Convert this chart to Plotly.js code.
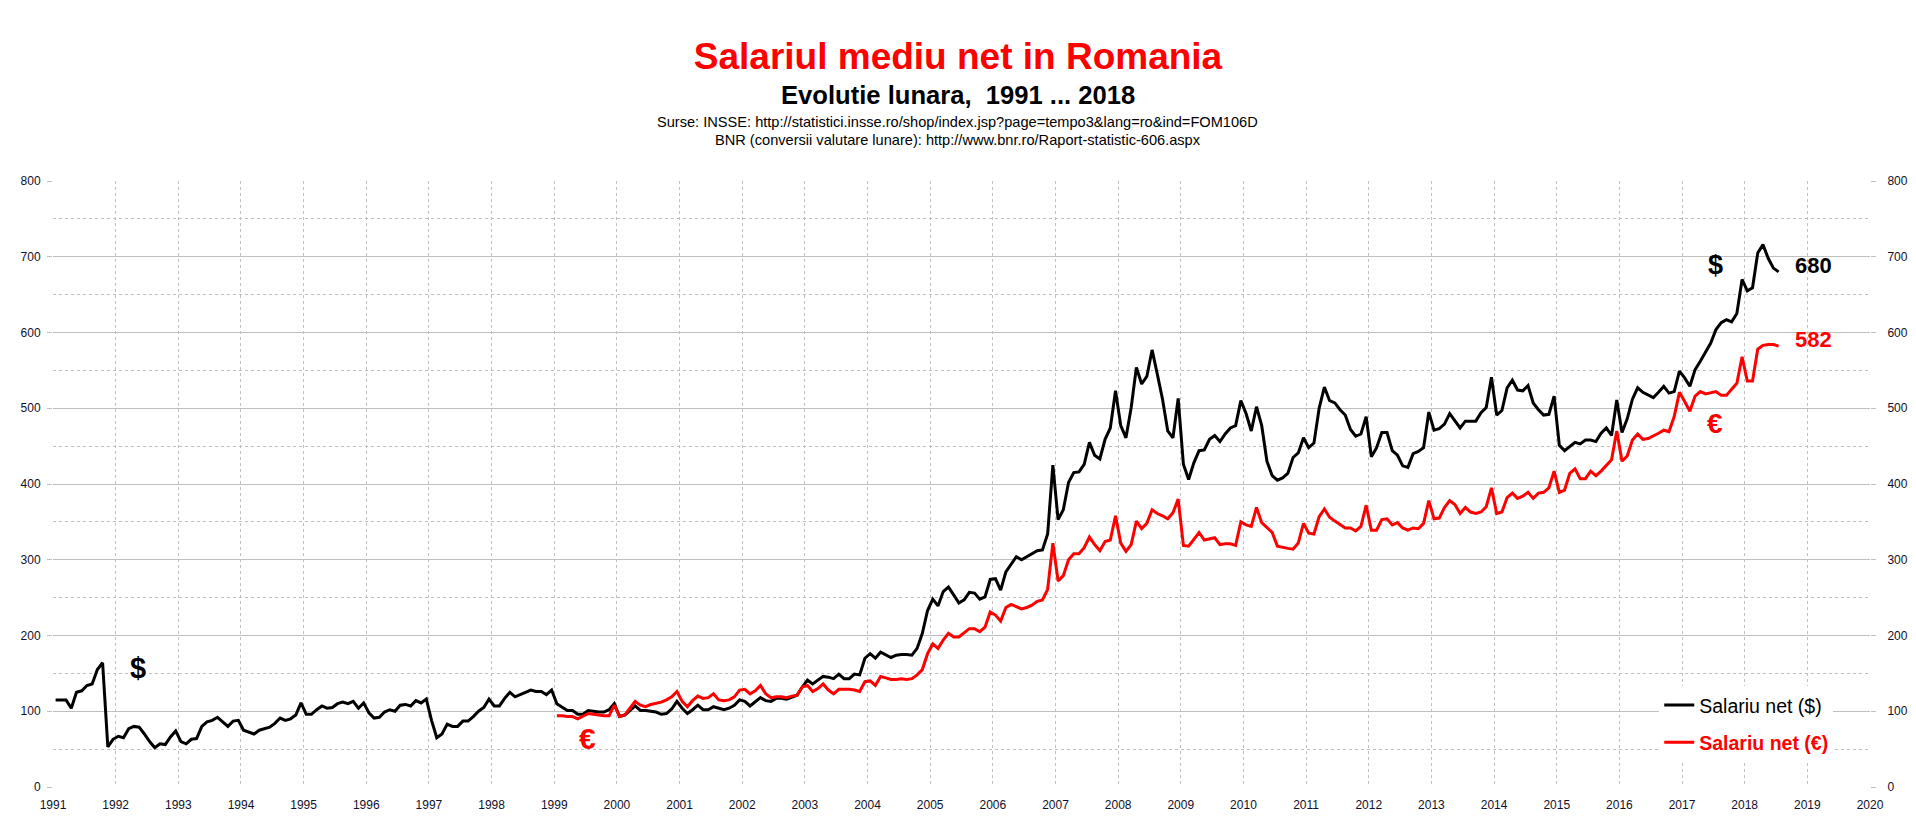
<!DOCTYPE html>
<html>
<head>
<meta charset="utf-8">
<script src="https://cdn.plot.ly/plotly-3.0.1.min.js"></script>
<style>
  html, body { margin: 0; padding: 0; background: #fff; }
  #chart { width: 1916px; height: 837px; }
</style>
</head>
<body>
<div id="chart"></div>
<script>
// monthly net salary, Jan 1991 .. Jul 2018 (USD) and Jan 1999 .. Jul 2018 (EUR)
const startUSD = 1991;
const startEUR = 1999;

const salariuUSD = [
  115, 115, 115, 104, 125, 127, 134, 136, 155, 164, 53, 63,   // 1991
  67, 65, 77, 80, 79, 70, 60, 52, 57, 56, 66, 74,             // 1992
  60, 57, 63, 64, 80, 86, 88, 92, 86, 80, 87, 88,             // 1993
  75, 72, 70, 75, 77, 79, 84, 91, 88, 90, 95, 111,            // 1994
  96, 96, 102, 107, 104, 105, 110, 112, 110, 113, 104, 111,   // 1995
  98, 91, 92, 99, 102, 100, 108, 109, 107, 114, 111, 116,     // 1996
  88, 65, 70, 83, 80, 80, 87, 87, 93, 100, 105, 116,          // 1997
  107, 107, 117, 125, 119, 122, 126, 128, 126, 126, 122, 128, // 1998
  110, 105, 101, 101, 96, 96, 101, 100, 99, 99, 102, 110,     // 1999
  93, 95, 101, 107, 101, 101, 100, 99, 96, 97, 103, 113,      // 2000
  104, 97, 102, 108, 102, 102, 106, 104, 102, 104, 108, 115,  // 2001
  113, 107, 112, 118, 114, 113, 117, 117, 116, 119, 121, 132, // 2002
  141, 136, 141, 146, 145, 143, 149, 143, 143, 149, 148, 170, // 2003
  176, 170, 178, 174, 171, 174, 175, 175, 174, 183, 203, 233, // 2004
  248, 239, 258, 264, 253, 243, 247, 257, 256, 248, 251, 274, // 2005
  275, 260, 284, 294, 304, 300, 304, 309, 312, 313, 334, 425, // 2006
  353, 366, 402, 415, 416, 426, 455, 438, 433, 459, 474, 523, // 2007
  477, 461, 501, 554, 532, 542, 577, 545, 512, 470, 461, 513, // 2008
  426, 406, 428, 444, 445, 459, 464, 456, 466, 474, 477, 510, // 2009
  493, 470, 502, 477, 430, 411, 405, 408, 414, 435, 441, 461, // 2010
  448, 454, 500, 528, 510, 507, 498, 491, 472, 463, 466, 489, // 2011
  436, 448, 468, 468, 444, 438, 424, 422, 440, 443, 448, 495, // 2012
  471, 473, 479, 493, 483, 474, 483, 483, 483, 494, 501, 541, // 2013
  491, 497, 527, 537, 524, 523, 530, 507, 498, 491, 492, 516, // 2014
  451, 444, 449, 455, 453, 458, 458, 456, 467, 474, 464, 511, // 2015
  468, 486, 512, 527, 521, 517, 514, 521, 529, 520, 522, 549, // 2016
  540, 529, 551, 562, 574, 586, 604, 613, 617, 614, 625, 670, // 2017
  655, 659, 705, 716, 698, 685, 680                           // 2018
];

const salariuEUR = [
  94, 94, 93, 93, 90, 93, 97, 96, 95, 94, 94, 108,            // 1999
  93, 95, 104, 113, 108, 106, 109, 110, 112, 115, 119, 126,   // 2000
  113, 106, 114, 120, 117, 118, 123, 115, 114, 115, 119, 128, // 2001
  129, 123, 127, 134, 123, 118, 119, 119, 118, 120, 121, 132, // 2002
  134, 126, 130, 136, 128, 123, 129, 129, 129, 128, 126, 139, // 2003
  140, 134, 146, 144, 142, 142, 143, 142, 143, 148, 155, 176, // 2004
  189, 183, 194, 203, 198, 198, 203, 209, 209, 205, 211, 231, // 2005
  227, 219, 237, 241, 238, 235, 237, 240, 245, 247, 261, 322, // 2006
  272, 279, 300, 308, 308, 316, 330, 320, 312, 324, 326, 358, // 2007
  322, 311, 320, 351, 341, 348, 366, 361, 358, 354, 362, 380, // 2008
  319, 318, 327, 336, 326, 328, 329, 320, 321, 321, 319, 350, // 2009
  346, 344, 369, 349, 342, 336, 318, 316, 315, 314, 322, 348, // 2010
  335, 334, 357, 367, 356, 351, 347, 342, 342, 338, 344, 372, // 2011
  339, 339, 353, 354, 346, 349, 342, 339, 342, 341, 348, 378, // 2012
  354, 355, 369, 378, 373, 361, 369, 363, 361, 363, 370, 395, // 2013
  361, 363, 382, 388, 381, 384, 389, 381, 388, 389, 395, 417, // 2014
  389, 392, 414, 420, 407, 407, 417, 411, 417, 424, 432, 470, // 2015
  430, 437, 458, 466, 459, 460, 463, 467, 471, 469, 489, 521, // 2016
  509, 496, 516, 522, 519, 520, 522, 517, 517, 525, 533, 568, // 2017
  536, 536, 578, 583, 584, 584, 582                           // 2018
];

const yearTicks = [];
for (let y = 1991; y <= 2020; y++) yearTicks.push(y);
const valueTicks = [0, 100, 200, 300, 400, 500, 600, 700, 800];

// month i of a series sits in the middle of its month
const monthX = (start, arr) => arr.map((_, i) => start + (i + 0.5) / 12);

const FONT = "Liberation Sans, Arial, sans-serif";
const GRID = "#c0c0c0";
const LBL = "#10102a";

const traces = [
  {
    x: monthX(startUSD, salariuUSD), y: salariuUSD,
    type: "scatter", mode: "lines",
    name: "Salariu net ($)", legendgroup: "usd",
    line: { color: "#000000", width: 3 }
  },
  {
    x: monthX(startEUR, salariuEUR), y: salariuEUR,
    type: "scatter", mode: "lines",
    name: "<span style='color:#ff0000'><b>Salariu net (€)</b></span>", legendgroup: "eur",
    line: { color: "#ff0000", width: 3 }
  },
  // invisible trace only to drive the right-hand axis
  { x: [1991], y: [0], yaxis: "y2", type: "scatter", mode: "markers",
    marker: { opacity: 0 }, showlegend: false, hoverinfo: "skip" }
];

const last = (a) => a[a.length - 1];
const lastX = (start, arr) => start + (arr.length - 0.5) / 12;

const layout = {
  width: 1916, height: 837,
  margin: { l: 53, r: 46, t: 181, b: 50 },
  paper_bgcolor: "#ffffff", plot_bgcolor: "#ffffff",
  font: { family: FONT, color: "#000" },
  showlegend: true,
  title: {
    text: "<b>Salariul mediu net in Romania</b>",
    font: { family: FONT, size: 37, color: "#ff0000" },
    x: 0.5, xref: "container", xanchor: "center",
    y: 1 - 56 / 837, yref: "container", yanchor: "middle"
  },
  xaxis: {
    range: [1991, 2020], tickmode: "array", tickvals: yearTicks,
    ticktext: yearTicks.map(String),
    showgrid: true, gridcolor: GRID, griddash: "dot", gridwidth: 1,
    zeroline: false, showline: false,
    ticks: "", ticklabelstandoff: 9,
    tickfont: { family: FONT, size: 12, color: LBL }
  },
  yaxis: {
    range: [0, 800], tickmode: "array", tickvals: valueTicks,
    showgrid: true, gridcolor: GRID, gridwidth: 1,
    minor: { dtick: 50, showgrid: true, gridcolor: GRID, griddash: "dot", ticks: "" },
    zeroline: false, showline: false,
    ticks: "outside", ticklen: 5, tickcolor: GRID, ticklabelstandoff: 4,
    tickfont: { family: FONT, size: 12, color: LBL }
  },
  yaxis2: {
    range: [0, 800], tickmode: "array", tickvals: valueTicks,
    overlaying: "y", side: "right", showgrid: false, zeroline: false,
    ticks: "outside", ticklen: 5, tickcolor: GRID, ticklabelstandoff: 9,
    tickfont: { family: FONT, size: 12, color: LBL }
  },
  legend: {
    x: 0.884, y: 0.167, xanchor: "left", yanchor: "top",
    bgcolor: "#ffffff", borderwidth: 0,
    tracegroupgap: 9,
    font: { family: FONT, size: 19.5, color: "#000" }
  },
  annotations: [
    { text: "<b>Evolutie lunara,  1991 ... 2018</b>", xref: "paper", yref: "paper",
      x: 0.498, y: (787 - 95) / 606, showarrow: false, xanchor: "center", yanchor: "middle",
      font: { family: FONT, size: 25.6, color: "#000" } },
    { text: "Surse: INSSE: http://statistici.insse.ro/shop/index.jsp?page=tempo3&lang=ro&ind=FOM106D",
      xref: "paper", yref: "paper", x: 0.498, y: (787 - 122.5) / 606, showarrow: false,
      xanchor: "center", yanchor: "middle", font: { family: FONT, size: 14.6, color: "#000" } },
    { text: "BNR (conversii valutare lunare): http://www.bnr.ro/Raport-statistic-606.aspx",
      xref: "paper", yref: "paper", x: 0.498, y: (787 - 139.5) / 606, showarrow: false,
      xanchor: "center", yanchor: "middle", font: { family: FONT, size: 14.6, color: "#000" } },
    { text: "<b>$</b>", x: 1992.35, y: 157, showarrow: false,
      font: { family: FONT, size: 29, color: "#000" } },
    { text: "<b>€</b>", x: 1999.53, y: 64, showarrow: false,
      font: { family: FONT, size: 30, color: "#ff0000" } },
    { text: "<b>$</b>", x: 2017.54, y: 689, showarrow: false,
      font: { family: FONT, size: 27, color: "#000" } },
    { text: "<b>€</b>", x: 2017.53, y: 480, showarrow: false,
      font: { family: FONT, size: 28, color: "#ff0000" } },
    { text: "<b>" + last(salariuUSD) + "</b>", x: lastX(startUSD, salariuUSD) + 0.55, y: 689,
      xanchor: "center", showarrow: false, font: { family: FONT, size: 22, color: "#000" } },
    { text: "<b>" + last(salariuEUR) + "</b>", x: lastX(startEUR, salariuEUR) + 0.55, y: 591,
      xanchor: "center", showarrow: false, font: { family: FONT, size: 22, color: "#ff0000" } }
  ]
};

Plotly.newPlot("chart", traces, layout, { staticPlot: true, displayModeBar: false });
</script>
</body>
</html>
